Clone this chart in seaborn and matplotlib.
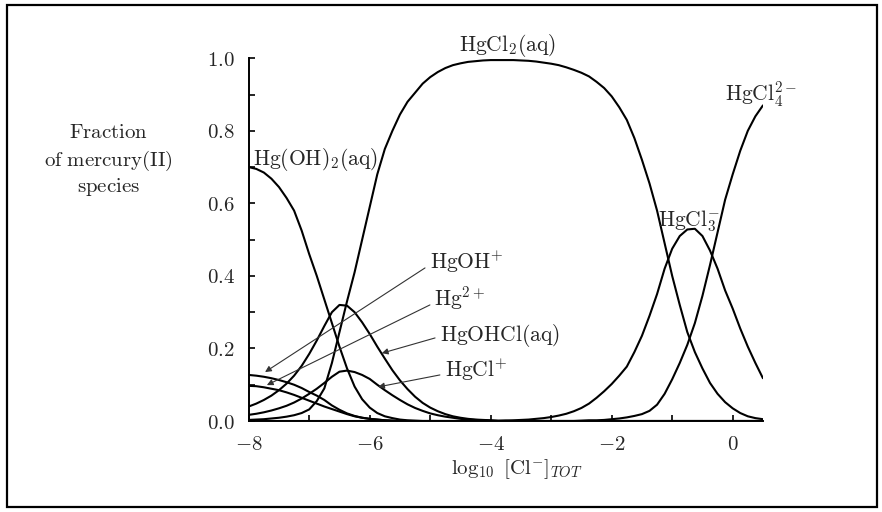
import numpy as np
import pandas as pd
import matplotlib
matplotlib.use("Agg")
import matplotlib.pyplot as plt
from matplotlib.patches import Rectangle
from matplotlib.ticker import FixedLocator, FuncFormatter
import seaborn as sns

# ---------------- data ----------------
# sampling grid of log10[Cl-]_TOT, from -8 to 0.5 in steps of 0.125 (69 points)
log_cl = list(np.round(np.linspace(-8, 0.5, 69), 4))
N = len(log_cl)


def right_zeros(vals):
    return list(vals) + [0.0] * (N - len(vals))


def left_zeros(vals):
    return [0.0] * (N - len(vals)) + list(vals)


hg_oh2 = right_zeros([
    0.700, 0.695, 0.685, 0.668, 0.645, 0.615, 0.580, 0.525,
    0.460, 0.400, 0.335, 0.270, 0.205, 0.145, 0.095, 0.060,
    0.037, 0.022, 0.013, 0.008, 0.004, 0.002, 0.001])
hg_oh = right_zeros([
    0.127, 0.125, 0.122, 0.118, 0.113, 0.107, 0.100, 0.091,
    0.080, 0.070, 0.058, 0.043, 0.031, 0.021, 0.014, 0.009,
    0.006, 0.004, 0.002, 0.001])
hg2 = right_zeros([
    0.097, 0.096, 0.093, 0.089, 0.085, 0.079, 0.072, 0.064,
    0.056, 0.048, 0.040, 0.033, 0.026, 0.019, 0.013, 0.009,
    0.006, 0.004, 0.002, 0.001])
hg_ohcl = right_zeros([
    0.040, 0.048, 0.058, 0.070, 0.085, 0.103, 0.125, 0.152,
    0.185, 0.222, 0.262, 0.300, 0.320, 0.318, 0.300, 0.272,
    0.240, 0.205, 0.172, 0.140, 0.112, 0.088, 0.067, 0.050,
    0.037, 0.027, 0.019, 0.013, 0.009, 0.006, 0.004, 0.003,
    0.002, 0.001, 0.001])
hg_cl = right_zeros([
    0.017, 0.020, 0.024, 0.029, 0.035, 0.042, 0.051, 0.062,
    0.075, 0.089, 0.105, 0.122, 0.136, 0.139, 0.135, 0.127,
    0.116, 0.100, 0.085, 0.071, 0.058, 0.046, 0.036, 0.028,
    0.021, 0.016, 0.012, 0.009, 0.006, 0.004, 0.003, 0.002,
    0.001])
hg_cl2 = right_zeros([
    0.003, 0.004, 0.005, 0.007, 0.009, 0.012, 0.016, 0.022,
    0.032, 0.055, 0.090, 0.160, 0.245, 0.330, 0.410, 0.500,
    0.590, 0.680, 0.750, 0.800, 0.845, 0.880, 0.905, 0.930,
    0.948, 0.962, 0.973, 0.981, 0.986, 0.990, 0.992, 0.994,
    0.995, 0.995, 0.995, 0.995, 0.994, 0.993, 0.991, 0.988,
    0.985, 0.981, 0.975, 0.968, 0.960, 0.950, 0.935, 0.918,
    0.895, 0.865, 0.830, 0.780, 0.720, 0.655, 0.580, 0.490,
    0.400, 0.320, 0.245, 0.190, 0.145, 0.105, 0.075, 0.052,
    0.035, 0.022, 0.013, 0.008, 0.005])
hg_cl3 = left_zeros([
    0.001, 0.002, 0.003, 0.004, 0.006, 0.008, 0.011, 0.015,
    0.020, 0.027, 0.036, 0.048, 0.064, 0.082, 0.102, 0.125,
    0.150, 0.190, 0.235, 0.290, 0.350, 0.420, 0.475, 0.510,
    0.528, 0.530, 0.510, 0.470, 0.420, 0.360, 0.310, 0.255,
    0.205, 0.160, 0.118])
hg_cl4 = left_zeros([
    0.001, 0.002, 0.002, 0.003, 0.005, 0.007, 0.010, 0.014,
    0.019, 0.028, 0.045, 0.075, 0.115, 0.160, 0.210, 0.270,
    0.345, 0.430, 0.520, 0.610, 0.680, 0.745, 0.800, 0.840,
    0.870])

species = {
    "Hg(OH)2": hg_oh2, "HgOH+": hg_oh, "Hg2+": hg2, "HgOHCl": hg_ohcl,
    "HgCl+": hg_cl, "HgCl2": hg_cl2, "HgCl3-": hg_cl3, "HgCl4 2-": hg_cl4,
}

x_ticks = [-8, -6, -4, -2, 0]
y_ticks = [0.0, 0.2, 0.4, 0.6, 0.8, 1.0]

# ---------------- figure ----------------
sns.set_style("ticks")
plt.rcParams["mathtext.fontset"] = "cm"
plt.rcParams["font.family"] = ["DejaVu Serif"]

fig = plt.figure(figsize=(8.82, 5.12), dpi=100)
ax = fig.add_axes([0.282, 0.1777, 0.583, 0.7085])

df = pd.concat(
    [pd.DataFrame({"x": log_cl, "frac": v, "sp": k}) for k, v in species.items()],
    ignore_index=True,
)
sns.lineplot(data=df, x="x", y="frac", hue="sp", units="sp", estimator=None,
             palette={k: "black" for k in species}, legend=False,
             linewidth=1.5, ax=ax, sort=False,
             solid_joinstyle="round", solid_capstyle="round")

ax.set_xlim(-8, 0.5)
ax.set_ylim(0, 1.0)
sns.despine(ax=ax)
for s in ("left", "bottom"):
    ax.spines[s].set_linewidth(1.4)
    ax.spines[s].set_color("black")

ax.xaxis.set_major_locator(FixedLocator(x_ticks))
ax.xaxis.set_minor_locator(FixedLocator([-7, -5, -3, -1]))
ax.yaxis.set_major_locator(FixedLocator(y_ticks))
ax.yaxis.set_minor_locator(FixedLocator([0.1, 0.3, 0.5, 0.7, 0.9]))
ax.xaxis.set_major_formatter(FuncFormatter(lambda v, p: r"$%d$" % int(round(v))))
ax.yaxis.set_major_formatter(FuncFormatter(lambda v, p: r"$%.1f$" % v))
ax.tick_params(which="both", direction="in", length=4.5, width=1.2, color="black")
ax.tick_params(axis="y", which="major", pad=10, labelsize=15)
ax.tick_params(axis="x", which="major", pad=10, labelsize=15)
ax.set_xlabel("")
ax.set_ylabel("")

fs = 15
fl = 15.5
ax.text(-3.73, 1.034, r"$\mathrm{HgCl_2(aq)}$", fontsize=fl, ha="center", va="center", clip_on=False)
ax.text(-0.13, 0.90, r"$\mathrm{HgCl_4^{2-}}$", fontsize=fl, ha="left", va="center", clip_on=False)
ax.text(-7.93, 0.72, r"$\mathrm{Hg(OH)_2(aq)}$", fontsize=fl, ha="left", va="center")
ax.text(-1.23, 0.55, r"$\mathrm{HgCl_3^{-}}$", fontsize=fl, ha="left", va="center")

labels = [
    (r"$\mathrm{HgOH^{+}}$", (-5.0, 0.44), (-5.086, 0.422), (-7.73, 0.135)),
    (r"$\mathrm{Hg^{2+}}$", (-4.94, 0.34), (-5.005, 0.320), (-7.70, 0.099)),
    (r"$\mathrm{HgOHCl(aq)}$", (-4.84, 0.237), (-4.92, 0.229), (-5.80, 0.187)),
    (r"$\mathrm{HgCl^{+}}$", (-4.76, 0.141), (-4.84, 0.127), (-5.86, 0.094)),
]
for txt, tpos, start, end in labels:
    ax.text(tpos[0], tpos[1], txt, fontsize=fl, ha="left", va="center")
    ax.annotate("", xy=end, xytext=start,
                arrowprops=dict(arrowstyle="-|>", lw=0.8, color="#333333",
                                mutation_scale=9, shrinkA=0, shrinkB=0))

# y-axis label (three centred lines) and x-axis label
for txt, ypx in [(r"$\mathrm{Fraction}$", 133), (r"$\mathrm{of\ mercury(II)}$", 161),
                 (r"$\mathrm{species}$", 187)]:
    fig.text(108 / 882, 1 - ypx / 512, txt, fontsize=fs, ha="center", va="center")
fig.text(517 / 882, 1 - 469 / 512, r"$\log_{10}\ [\mathrm{Cl}^{-}]_{TOT}$",
         fontsize=fs, ha="center", va="center")

# figure border
fig.patches.append(Rectangle((7 / 882, 5 / 512), 870 / 882, 502 / 512,
                             transform=fig.transFigure, fill=False,
                             edgecolor="black", linewidth=1.6))

fig.savefig("out.png", dpi=100)
